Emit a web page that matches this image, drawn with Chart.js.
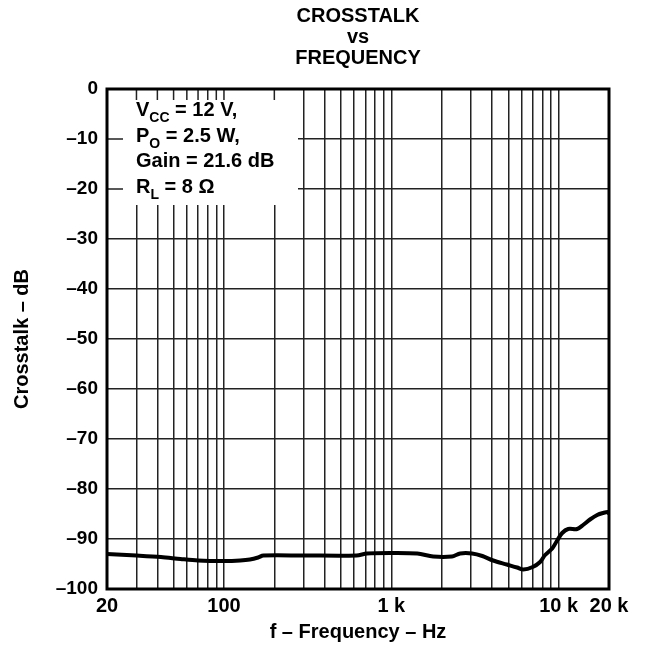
<!DOCTYPE html>
<html>
<head>
<meta charset="utf-8">
<script src="https://cdn.jsdelivr.net/npm/chart.js@4.4.1/dist/chart.umd.min.js"></script>
<style>
  html, body { margin: 0; padding: 0; background: #fff; }
  #wrap { width: 647px; height: 658px; }
</style>
</head>
<body>
<div id="wrap"><canvas id="chart"></canvas></div>
<script>
// curve (Hz, dB)
const frequency = [20, 30, 42, 55, 70, 100, 125, 143, 160, 172, 300, 620, 715, 1000, 1430,
  1780, 2300, 2580, 3040, 3500, 4060, 4900, 5650, 6150, 7000, 7750, 8300, 9150, 9800,
  10500, 11400, 12900, 14000, 15400, 17000, 18400, 19700, 20000]
const crosstalk = [-93.0, -93.3, -93.6, -94.0, -94.3, -94.4, -94.3, -94.1, -93.7, -93.3, -93.3,
  -93.3, -92.9, -92.8, -92.9, -93.5, -93.5, -92.9, -92.9, -93.4, -94.3, -95.1, -95.7, -96.1,
  -95.6, -94.6, -93.2, -91.9, -90.3, -88.8, -88.0, -88.0, -87.2, -86.1, -85.2, -84.8, -84.6, -85.0]

const xTickValues = [20, 100, 1000, 10000, 20000]
const xTickLabels = ['20', '100', '1 k', '10 k', '20 k']
const xGridValues = [20, 30, 40, 50, 60, 70, 80, 90, 100, 200, 300, 400, 500, 600, 700, 800, 900,
  1000, 2000, 3000, 4000, 5000, 6000, 7000, 8000, 9000, 10000, 20000]
const yTickValues = [0, -10, -20, -30, -40, -50, -60, -70, -80, -90, -100]
const yTickLabels = ['0', '–10', '–20', '–30', '–40', '–50', '–60', '–70', '–80', '–90', '–100']

// conditions box (text parts, 1 = subscript)
const noteLines = [
  [['V', 0], ['CC', 1], [' = 12 V,', 0]],
  [['P', 0], ['O', 1], [' = 2.5 W,', 0]],
  [['Gain = 21.6 dB', 0]],
  [['R', 0], ['L', 1], [' = 8 Ω', 0]]
]
const boxRightHz = 277
const boxBottomDb = -23.2

const FONT = 'Liberation Sans, Arial, Helvetica, sans-serif'

const notesPlugin = {
  id: 'notes',
  beforeDatasetsDraw(chart) {
    const { ctx, chartArea: a, scales: { x, y } } = chart
    const right = x.getPixelForValue(boxRightHz)
    const bottom = y.getPixelForValue(boxBottomDb)
    ctx.save()
    ctx.fillStyle = '#fff'
    ctx.fillRect(a.left, a.top, right - a.left, bottom - a.top)

    // short ticks left inside the box
    ctx.strokeStyle = '#222'
    ctx.lineWidth = 1.5
    ctx.beginPath()
    xGridValues.forEach(v => {
      if (v > 20 && v < boxRightHz) {
        const px = x.getPixelForValue(v)
        ctx.moveTo(px, a.top)
        ctx.lineTo(px, a.top + 11)
      }
    })
    yTickValues.forEach(v => {
      if (v < 0 && v > boxBottomDb) {
        const py = y.getPixelForValue(v)
        ctx.moveTo(a.left, py)
        ctx.lineTo(a.left + 16, py)
      }
    })
    ctx.stroke()

    // text
    ctx.fillStyle = '#000'
    ctx.textBaseline = 'alphabetic'
    ctx.textAlign = 'left'
    noteLines.forEach((parts, i) => {
      let cx = a.left + 29
      const base = a.top + 27 + i * 25.7
      parts.forEach(p => {
        ctx.font = p[1] ? 'bold 14px ' + FONT : 'bold 20px ' + FONT
        ctx.fillText(p[0], cx, p[1] ? base + 6 : base)
        cx += ctx.measureText(p[0]).width
      })
    })
    ctx.restore()
  },
  afterDatasetsDraw(chart) {
    const { ctx, chartArea: a } = chart
    ctx.save()
    ctx.strokeStyle = '#000'
    ctx.lineWidth = 3
    ctx.strokeRect(a.left, a.top, a.right - a.left, a.bottom - a.top)
    ctx.restore()
  }
}

const gridColor = (ends) => (c) => (c.tick && ends.includes(c.tick.value)) ? 'rgba(0,0,0,0)' : '#222'

new Chart(document.getElementById('chart'), {
  type: 'line',
  data: {
    datasets: [{
      data: frequency.map((f, i) => ({ x: f, y: crosstalk[i] })),
      borderColor: '#000',
      borderWidth: 4,
      pointRadius: 0,
      tension: 0.3,
      fill: false
    }]
  },
  options: {
    responsive: true,
    maintainAspectRatio: false,
    animation: false,
    layout: { padding: { left: 0, right: 38, top: 0, bottom: 0 } },
    plugins: {
      legend: { display: false },
      tooltip: { enabled: false },
      title: {
        display: true,
        fullSize: false,
        text: ['CROSSTALK', 'vs', 'FREQUENCY'],
        color: '#000',
        font: { family: FONT, size: 20, weight: 'bold', lineHeight: '21px' },
        padding: { top: 6, bottom: 20 }
      }
    },
    scales: {
      x: {
        type: 'logarithmic',
        min: 20,
        max: 20000,
        afterBuildTicks: s => { s.ticks = xGridValues.map(v => ({ value: v })) },
        afterFit: s => { s.height = 69 },
        ticks: {
          autoSkip: false,
          maxRotation: 0,
          color: '#000',
          padding: 5,
          font: { family: FONT, size: 20, weight: 'bold' },
          callback: v => {
            const i = xTickValues.indexOf(v)
            return i >= 0 ? xTickLabels[i] : ''
          }
        },
        grid: { color: gridColor([20, 20000]), lineWidth: 1.5, drawTicks: false },
        border: { display: false },
        title: {
          display: true,
          text: 'f – Frequency – Hz',
          color: '#000',
          font: { family: FONT, size: 20, weight: 'bold' },
          padding: { top: 0, bottom: 14 }
        }
      },
      y: {
        type: 'linear',
        min: -100,
        max: 0,
        afterBuildTicks: s => { s.ticks = yTickValues.map(v => ({ value: v })) },
        afterFit: s => { s.width = 107 },
        ticks: {
          color: '#000',
          padding: 9,
          font: { family: FONT, size: 19, weight: 'bold' },
          callback: v => yTickLabels[yTickValues.indexOf(v)]
        },
        grid: { color: gridColor([0, -100]), lineWidth: 1.5, drawTicks: false },
        border: { display: false },
        title: {
          display: true,
          text: 'Crosstalk – dB',
          color: '#000',
          font: { family: FONT, size: 20, weight: 'bold' },
          padding: { top: 10, bottom: 0 }
        }
      }
    }
  },
  plugins: [notesPlugin]
})
</script>
</body>
</html>
